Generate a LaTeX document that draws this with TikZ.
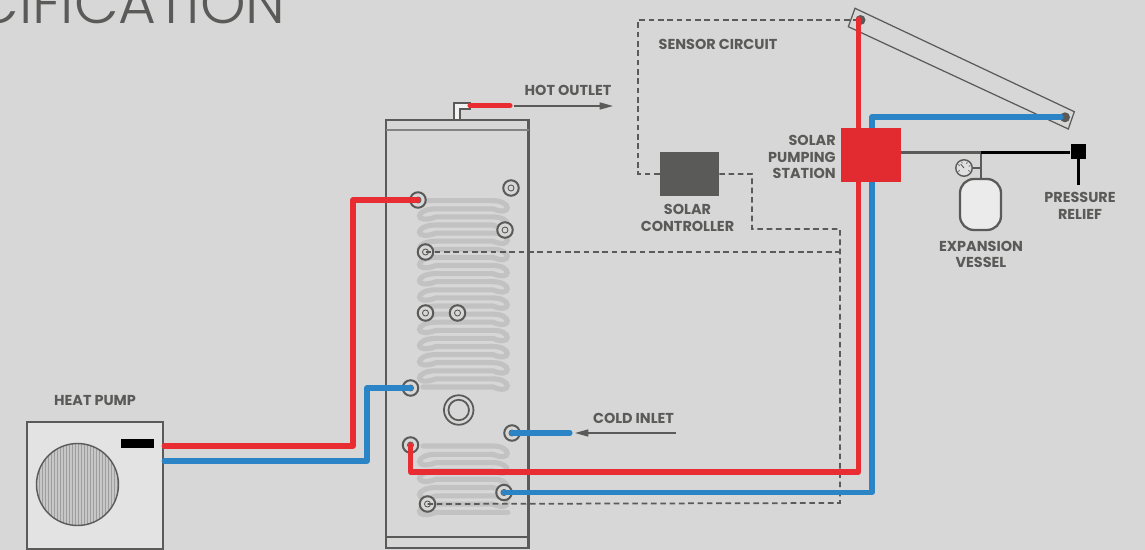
\documentclass[tikz,border=0pt]{standalone}
\usepackage{fontspec}
\setmainfont{Poppins}
\newfontfamily\titlefont{Poppins Light}
\definecolor{bgcol}{HTML}{D7D7D7}
\definecolor{wallcol}{HTML}{5A5A59}
\definecolor{coilcol}{HTML}{C2C2C2}
\definecolor{hotcol}{HTML}{E92C32}
\definecolor{coldcol}{HTML}{2A84C6}
\usetikzlibrary{arrows.meta}
\tikzset{
  lbl/.style={text=wallcol,font=\fontsize{8.2}{9.3}\selectfont\bfseries,align=center,inner sep=0pt},
  hotpipe/.style={hotcol,line width=2.9pt,line join=round,line cap=round},
  coldpipe/.style={coldcol,line width=2.9pt,line join=round,line cap=round},
  sensorline/.style={wallcol,line width=1pt,dash pattern=on 3.2pt off 2.1pt},
  flowarrow/.style={wallcol,line width=0.85pt,-{Triangle[length=7.6pt,width=4pt]}},
  coilline/.style={coilcol,line width=2.9pt,line cap=round},
  portnode/.style={circle,draw=wallcol,line width=1.15pt,fill=bgcol,minimum size=15.5*0.02cm,inner sep=0pt,
    path picture={\draw[wallcol,line width=0.5pt] (path picture bounding box.center) circle (3);}},
}
\begin{document}
\begin{tikzpicture}[x=0.02cm,y=-0.02cm]
  \useasboundingbox (0,0) rectangle (1145,550);
  \fill[bgcol] (0,0) rectangle (1145,550);

  % Titre coupe
  \begin{scope}
    \clip (0,0) rectangle (1145,550);
    \node[anchor=base east,text=wallcol,inner sep=0pt,font=\fontsize{33}{33}\titlefont] (title) at (286,23.5) {CIFICATION};
  \end{scope}

  % Ballon
  \draw[wallcol,line width=1.3pt] (386,120) rectangle (528.5,548);
  \draw[wallcol!75,line width=0.9pt] (386,130) -- (528.5,130);
  \draw[wallcol,line width=0.8pt] (386,537) -- (528.5,537);
  \draw[wallcol,line width=1pt,fill=white!90!gray] (454,119) -- (454,103) -- (470,103) -- (470,109) -- (460,109) -- (460,119);

  % Serpentins
  \draw[coilline] (423,200.7) -- (493,200.7) foreach \k in {0,...,10} {
    .. controls ++(19,0) and ++(19,8.1) .. ++(0,8.1) -- ++(-57,0)
    .. controls ++(-22,0) and ++(-22,8.1) .. ++(0,8.1) -- ++(57,0) }
    .. controls ++(19,0) and ++(19,8.1) .. ++(0,8.1) -- (423,387);
  \draw[coilline] (423,446) -- (493,446) foreach \k in {0,...,3} {
    .. controls ++(19,0) and ++(19,8.3) .. ++(0,8.3) -- ++(-57,0)
    .. controls ++(-22,0) and ++(-22,8.3) .. ++(0,8.3) -- ++(57,0) }
    -- ++(15,0);

  % Piquages
  \node[portnode] (sensorTop) at (511,188) {};
  \node[portnode] (sensorMid) at (505,230) {};
  \node[portnode] (coilTopIn) at (418,200) {};
  \node[portnode] (sensorA) at (425.5,252) {};
  \node[portnode] (portA) at (425.5,313) {};
  \node[portnode] (portB) at (457.5,313) {};
  \node[portnode] (coilTopOut) at (410.5,388) {};
  \node[portnode] (coldPort) at (512,433) {};
  \node[portnode] (coilLowIn) at (410.5,445) {};
  \node[portnode] (coilLowOut) at (504,492.5) {};
  \node[portnode] (sensorB) at (427.5,504) {};
  \node[circle,draw=wallcol,line width=1pt,minimum size=29.5*0.02cm,inner sep=0pt] (heater) at (458.7,410) {};
  \node[circle,draw=wallcol,line width=1pt,minimum size=20.5*0.02cm,inner sep=0pt] at (heater) {};

  % Pompe a chaleur
  \node[draw=wallcol,line width=1.3pt,fill=white!89!black,minimum width=136*0.02cm,minimum height=127*0.02cm,inner sep=0pt] (pump) at (95,485.5) {};
  \begin{scope}
    \clip (77.5,484.5) circle (41);
    \fill[black!38] (36,443) rectangle (119,526);
    \foreach \s in {38,41,...,118} \draw[black!22,line width=0.6pt] (\s,443) -- (\s,526);
  \end{scope}
  \draw[wallcol,line width=0.8pt] (77.5,484.5) circle (41);
  \fill[black] (120.5,439) rectangle (154,448);

  % Circuit solaire
  \node[fill=wallcol,minimum width=59*0.02cm,minimum height=44*0.02cm,inner sep=0pt] (controller) at (689.5,174) {};
  \coordinate (collectorIn) at (860.5,20);
  \coordinate (collectorOut) at (1065,117.3);
  \draw[wallcol,line width=0.7pt] (855,8.3) -- (1074.3,111.7) -- (1068.3,129) -- (848.3,26.7) -- cycle;
  \fill[wallcol] (collectorIn) circle (5);
  \fill[wallcol] (collectorOut) circle (5);

  % Sondes
  \draw[sensorline] (sensorA.center) -- (840,252);
  \draw[sensorline] (sensorB.center) -- (840,503) -- (840,229) -- (752,229) -- (752,174) -- (controller.east);
  \draw[sensorline] (controller.west) -- (638,174) -- (638,20) -- (collectorIn);

  % Tuyaux
  \draw[hotpipe] (coilTopIn.center) -- (353,200) -- (353,446) -- (pump.east |- 0,446);
  \draw[coldpipe] (coilTopOut.center) -- (367,388) -- (367,461) -- (pump.east |- 0,461);
  \draw[coldpipe] (coldPort.center) -- (570,433);
  \draw[hotpipe] (coilLowIn.center) -- (410.5,472) -- (858.5,472) -- (858.5,19);
  \draw[coldpipe] (coilLowOut.center) -- (872,492.5) -- (872,117) -- (1061,117);
  \draw[hotpipe] (470,105.7) -- (510,105.7);
  \draw[flowarrow] (514,106) -- (613,106);
  \draw[flowarrow] (676,433) -- (575,433);

  % Station et vase
  \node[fill=hotcol!97!black,minimum width=60*0.02cm,minimum height=54*0.02cm,inner sep=0pt] (station) at (871,155) {};
  \node[draw=wallcol,line width=1.3pt,fill=white!92!black,rounded corners=8pt,minimum width=41*0.02cm,minimum height=51*0.02cm,inner sep=0pt] (vessel) at (980.5,204.5) {};
  \node[circle,draw=wallcol,line width=0.8pt,fill=white!88!black,minimum size=16.5*0.02cm,inner sep=0pt] (gauge) at (964,168) {};
  \foreach \a in {-150,-110,-60,-20,30,150}
    \draw[wallcol,line width=0.4pt] (gauge) ++(\a:5) -- ++(\a:1.8);
  \draw[wallcol,line width=0.5pt] (gauge.center) -- ++(-130:5);
  \node[fill=black,minimum size=15*0.02cm,inner sep=0pt] (relief) at (1078.3,151.5) {};
  \coordinate (tee) at (981,152.5);
  \draw[wallcol,line width=1.3pt] (station.east |- tee) -- (tee) -- (tee |- vessel.north);
  \draw[wallcol,line width=0.9pt] (gauge.east) -- (gauge.east -| tee);
  \draw[black,line width=1.4pt] (tee) -- (relief.west |- tee);
  \draw[black,line width=1.4pt] (relief.south) -- (1078.3,185);

  % Textes
  \node[lbl] (pumpLabel) at (95,400) {HEAT PUMP};
  \node[lbl] (hotLabel) at (568,90.5) {HOT OUTLET};
  \node[lbl] (coldLabel) at (633.5,418) {COLD INLET};
  \node[lbl] (sensorLabel) at (718,44) {SENSOR CIRCUIT};
  \node[lbl] (controllerLabel) at (687.5,218) {SOLAR\\CONTROLLER};
  \node[lbl,anchor=east,align=right] (stationLabel) at (836,157) {SOLAR\\PUMPING\\STATION};
  \node[lbl] (vesselLabel) at (981,254.5) {EXPANSION\\VESSEL};
  \node[lbl] (reliefLabel) at (1080,206) {PRESSURE\\RELIEF};
\end{tikzpicture}
\end{document}
